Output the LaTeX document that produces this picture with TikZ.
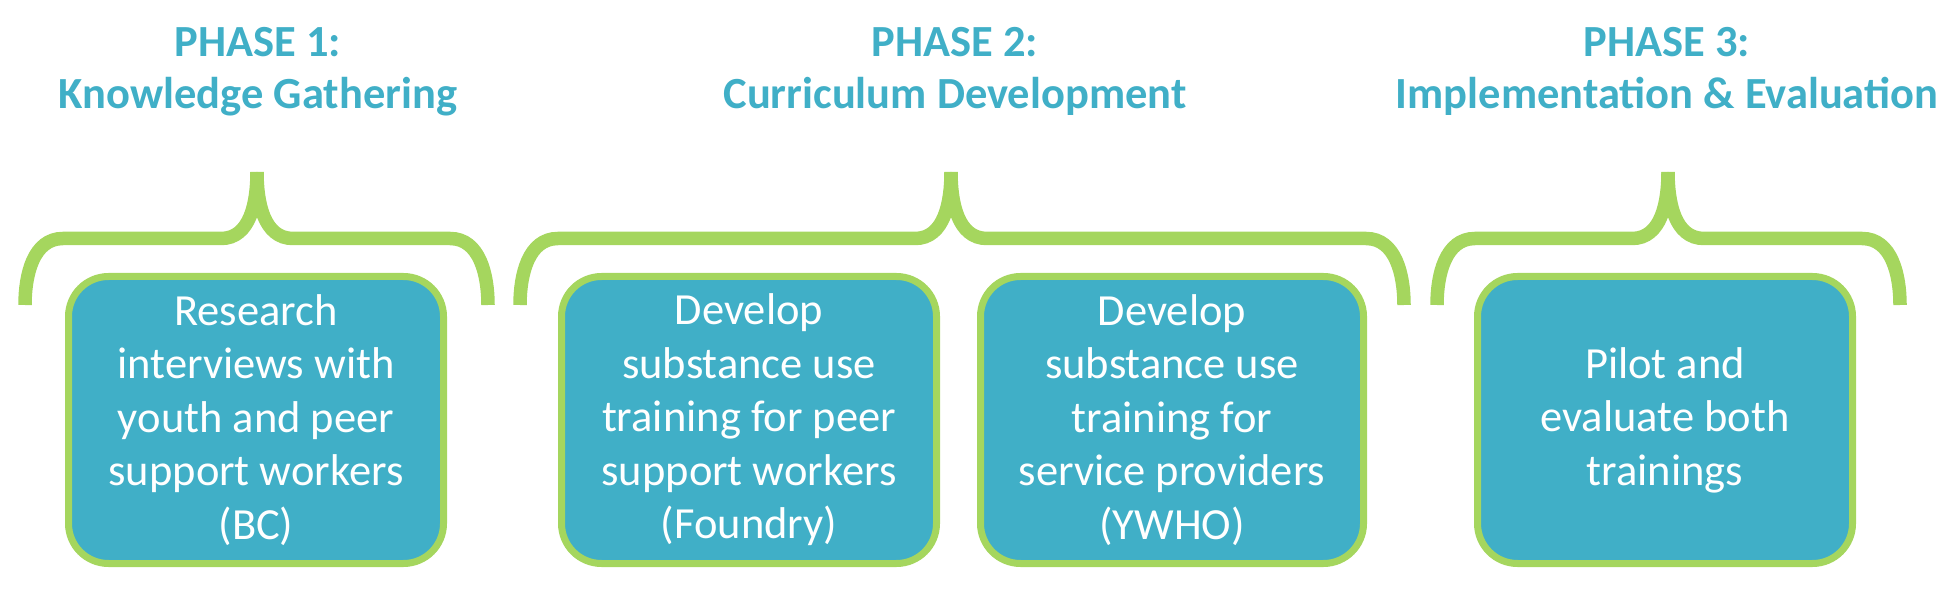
\documentclass[tikz,border=0pt]{standalone}
\usepackage{fontspec}
\setmainfont{Carlito}
\usepackage{xcolor}
\usepackage{tikz}
\usetikzlibrary{positioning}

\definecolor{phaseteal}{RGB}{64,175,199}
\definecolor{bracegreen}{RGB}{165,214,94}

\begin{document}
\begin{tikzpicture}[
  x=1pt, y=1pt,
  task/.style={draw=bracegreen, line width=7pt, fill=phaseteal, rounded corners=40pt,
               minimum width=375pt, minimum height=287pt, inner sep=0pt,
               text=white, align=center, font=\fontsize{44.5}{53.5}\selectfont},
  phase/.style={text=phaseteal, align=center, anchor=base,
                font=\fontsize{44.5}{52}\selectfont\bfseries},
  brace/.style={draw=bracegreen, line width=13.5pt}
]
\useasboundingbox (0,0) rectangle (1958,597);

% phase titles (anchored on the baseline of the second line)
\node[phase] (p1) at (258,488) {PHASE 1:\\Knowledge Gathering};
\node[phase] (p2) at (955,488) {PHASE 2:\\Curriculum Development};
\node[phase] (p3) at (1667,488) {PHASE 3:\\Implementation \& Evaluation};

% braces: left end / tip / right end
\foreach \l/\t/\r in {25/257/488, 520/951/1404, 1437/1668/1900} {
  \draw[brace] (\l,292) to[out=90,in=180] (\l+38,358.5) -- (\t-36,358.5)
               to[out=0,in=-90] (\t,425);
  \draw[brace] (\t,425) to[out=-90,in=180] (\t+36,358.5) -- (\r-38,358.5)
               to[out=0,in=90] (\r,292);
}

% tasks
\node[task] (t1) at (256,177) {Research\\interviews with\\youth and peer\\support workers\\(BC)};
\node[task, right=111pt of t1] (t2) {Develop\\substance use\\training for peer\\support workers\\(Foundry)};
\node[task, right=37pt of t2, minimum width=383pt] (t3) {Develop\\substance use\\training for\\service providers\\(YWHO)};
\node[task, right=107pt of t3] (t4) {Pilot and\\evaluate both\\trainings};
\end{tikzpicture}
\end{document}
